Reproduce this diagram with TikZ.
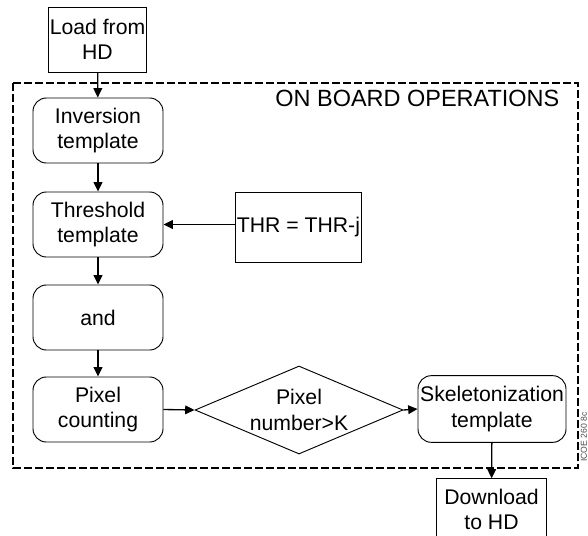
\documentclass[tikz,border=0pt]{standalone}
\usepackage{fontspec}
\setmainfont{Liberation Sans}
\usetikzlibrary{shapes.geometric,arrows.meta}

\begin{document}
\begin{tikzpicture}[x=0.75pt,y=-0.75pt,
	blocco/.style={draw=black, line width=0.7pt, rounded corners=10pt, align=center,
		inner sep=0pt, minimum width=97.5pt, minimum height=48.75pt,
		font=\fontsize{15.9}{19}\selectfont},
	scatola/.style={draw=black, line width=0.7pt, align=center, inner sep=0pt,
		font=\fontsize{15.9}{19}\selectfont},
	rombo/.style={diamond, draw=black, line width=0.7pt, align=center, inner sep=0pt,
		shape aspect=2.36, minimum width=156pt, minimum height=66pt,
		font=\fontsize{15.9}{19}\selectfont},
	freccia/.style={line width=1pt, -{Triangle[length=7pt,width=6.5pt]}},
	bordo/.style={line width=1pt, dash pattern=on 5.75pt off 2.5pt},
	]
	\useasboundingbox (0,0) rectangle (588,535);

	%% ── area a bordo ───────────────────────────────
	\draw[bordo] (13,83) rectangle (578,468);
	\node[anchor=base east, font=\fontsize{17.6}{20}\selectfont] (titolo) at (564,106) {ON BOARD OPERATIONS};

	%% ── blocchi ────────────────────────────────────
	\node[scatola, minimum width=74pt, minimum height=48.75pt] (carica) at (97.5,39.5) {Load from\\HD};
	\node[blocco] (inv) at (98,130.5) {Inversion\\template};
	\node[blocco] (soglia) at (98,224.5) {Threshold\\template};
	\node[blocco] (and) at (98,317.5) {and};
	\node[blocco] (conta) at (98,409.5) {Pixel\\counting};
	\node[rombo] (test) at (299,410) {Pixel\\number>K};
	\node[blocco, minimum width=111pt, minimum height=50pt] (scheletro) at (492,409) {Skeletonization\\template};
	\node[scatola, minimum width=95pt, minimum height=52.5pt] (thr) at (298.5,227) {THR = THR-j};
	\node[scatola, minimum width=83pt, minimum height=46pt] (scarica) at (491.5,509.5) {Download\\to HD};

	%% ── frecce ─────────────────────────────────────
	\draw[freccia] (carica) -- (inv);
	\draw[freccia] (inv) -- (soglia);
	\draw[freccia] (soglia) -- (and);
	\draw[freccia] (and) -- (conta);
	\draw[freccia] (thr.west |- soglia.east) -- (soglia.east);
	\draw[freccia] (conta.east) -- (test.west);
	\draw[freccia] (test.east) -- (scheletro.west);
	\draw[freccia] (scheletro) -- (scarica);

	\node[rotate=90, anchor=west, inner sep=0pt, text=black!70, font=\fontsize{6.5}{7}\selectfont] (sigla) at (584,462) {ICOE 260 8c};
\end{tikzpicture}
\end{document}
